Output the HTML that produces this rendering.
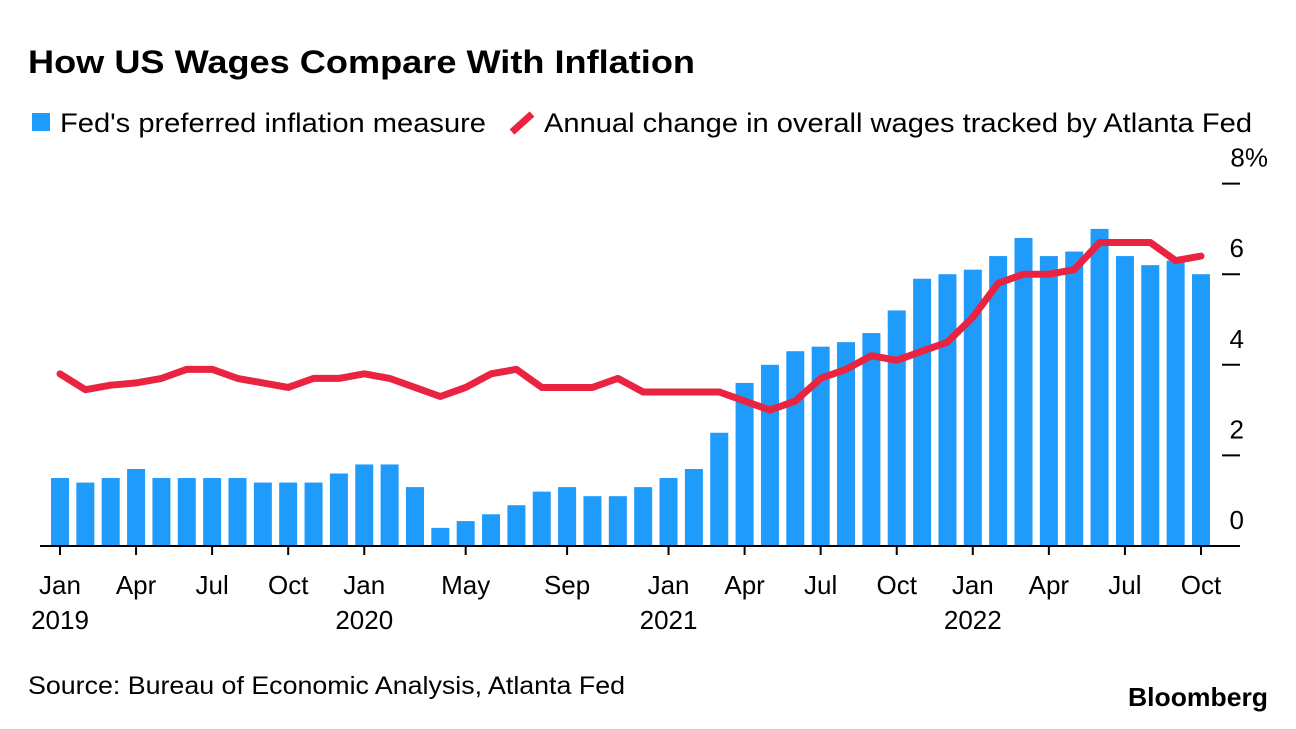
<!DOCTYPE html>
<html><head><meta charset="utf-8"><style>
body{margin:0;background:#fff;width:1296px;height:724px;overflow:hidden;font-family:"Liberation Sans",Arial,sans-serif;}
</style></head><body>
<svg width="1296" height="724" xmlns="http://www.w3.org/2000/svg" font-family="Liberation Sans, Arial, sans-serif">
<text x="28" y="73" font-size="32" font-weight="bold" fill="#000" textLength="667" lengthAdjust="spacingAndGlyphs">How US Wages Compare With Inflation</text>
<g>
<rect x="32" y="113" width="18" height="18" fill="#1f9bfb"/>
<text x="60" y="132" font-size="27" fill="#000" textLength="426" lengthAdjust="spacingAndGlyphs">Fed's preferred inflation measure</text>
<line x1="512" y1="132" x2="532" y2="114" stroke="#ea2340" stroke-width="7"/>
<text x="544" y="132" font-size="27" fill="#000" textLength="708" lengthAdjust="spacingAndGlyphs">Annual change in overall wages tracked by Atlanta Fed</text>
</g>
<g id="plot"></g>
<text x="28" y="694" font-size="25" fill="#000" textLength="597" lengthAdjust="spacingAndGlyphs">Source: Bureau of Economic Analysis, Atlanta Fed</text>
<text x="1128" y="706" font-size="26" font-weight="bold" fill="#000" textLength="140" lengthAdjust="spacingAndGlyphs">Bloomberg</text>
</svg>
<script>
const inflation=[1.5,1.4,1.5,1.7,1.5,1.5,1.5,1.5,1.4,1.4,1.4,1.6,1.8,1.8,1.3,0.4,0.55,0.7,0.9,1.2,1.3,1.1,1.1,1.3,1.5,1.7,2.5,3.6,4.0,4.3,4.4,4.5,4.7,5.2,5.9,6.0,6.1,6.4,6.8,6.4,6.5,7.0,6.4,6.2,6.3,6.0];
const wages=[3.8,3.45,3.55,3.6,3.7,3.9,3.9,3.7,3.6,3.5,3.7,3.7,3.8,3.7,3.5,3.3,3.5,3.8,3.9,3.5,3.5,3.5,3.7,3.4,3.4,3.4,3.4,3.2,3.0,3.2,3.7,3.9,4.2,4.1,4.3,4.5,5.05,5.8,6.0,6.0,6.1,6.7,6.7,6.7,6.3,6.4];
const yTicks=[0,2,4,6,8];
const xLabels=[[0,"Jan","2019"],[3,"Apr",""],[6,"Jul",""],[9,"Oct",""],[12,"Jan","2020"],[16,"May",""],[20,"Sep",""],[24,"Jan","2021"],[27,"Apr",""],[30,"Jul",""],[33,"Oct",""],[36,"Jan","2022"],[39,"Apr",""],[42,"Jul",""],[45,"Oct",""]];
const NS="http://www.w3.org/2000/svg";
const g=document.getElementById('plot');
const x=i=>60+i*(1201-60)/45;
const y=v=>546-v*45.3;
function el(t,a){const e=document.createElementNS(NS,t);for(const k in a)e.setAttribute(k,a[k]);g.appendChild(e);return e;}
inflation.forEach((v,i)=>{
 const r=el('rect',{x:x(i)-9,y:y(v),width:18,height:546-y(v),fill:'#1f9bfb'});
 
 
});
const p=el('polyline',{points:wages.map((v,i)=>x(i)+','+y(v)).join(' '),fill:'none',stroke:'#ea2340','stroke-width':7,'stroke-linejoin':'round','stroke-linecap':'round'});


const ax=el('line',{x1:40,y1:546,x2:1240,y2:546,stroke:'#000','stroke-width':2});


yTicks.forEach(v=>{
 if(v>0){const t=el('line',{x1:1222,y1:y(v),x2:1240,y2:y(v),stroke:'#000','stroke-width':2});
 
 }
 const l=el('text',{x:1244,y:y(v)-17,'font-size':26,'text-anchor':'end',fill:'#000'});
 l.textContent=v===8?'8%':String(v);
 if(v===8)l.setAttribute('x',1268);
 
 
});
xLabels.forEach(([i,m,yr])=>{
 const t=el('line',{x1:x(i),y1:546,x2:x(i),y2:555,stroke:'#000','stroke-width':2});
 
 
 const l=el('text',{x:x(i),y:594,'font-size':26,'text-anchor':'middle',fill:'#000'});
 l.textContent=m;
 
 
 if(yr){const yl=el('text',{x:x(i),y:629,'font-size':26,'text-anchor':'middle',fill:'#000'});
 yl.textContent=yr;
 
 }
});
</script>
</body></html>
